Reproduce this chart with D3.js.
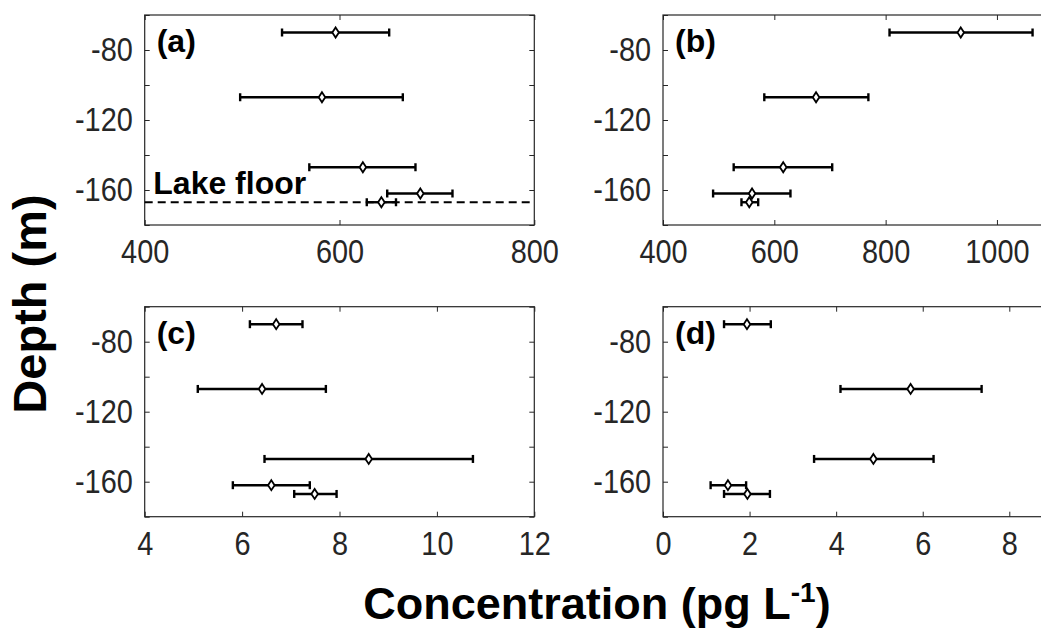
<!DOCTYPE html>
<html>
<head>
<meta charset="utf-8">
<script src="https://cdn.jsdelivr.net/npm/d3@7"></script>
<style>
  body { margin: 0; background: #fff; overflow: hidden; }
  svg { display: block; }
</style>
</head>
<body>
<div id="chart"></div>
<script>
// depths of the five samples (m)
const depths = [-70, -107, -147, -162, -167];
const lakeFloor = -167;

const meanA = [596, 582, 624, 683, 643];
const lowA  = [541, 498, 569, 649, 628];
const highA = [651, 665, 678, 716, 658];

const meanB = [935, 675, 616, 560, 555];
const lowB  = [807, 582, 527, 490, 541];
const highB = [1064, 769, 704, 629, 571];

const meanC = [6.70, 6.41, 8.60, 6.60, 7.49];
const lowC  = [6.16, 5.09, 6.46, 5.81, 7.07];
const highC = [7.24, 7.72, 10.74, 7.39, 7.94];

const meanD = [1.94, 5.72, 4.86, 1.50, 1.95];
const lowD  = [1.41, 4.10, 3.49, 1.10, 1.41];
const highD = [2.49, 7.36, 6.25, 1.92, 2.47];

const xTicksA = [400, 600, 800];
const xTicksB = [400, 600, 800, 1000];
const xTicksC = [4, 6, 8, 10, 12];
const xTicksD = [0, 2, 4, 6, 8];
const yTicks = [-180, -160, -140, -120, -100, -80, -60];

const W = 1041, H = 630;
const pw = 389.6, ph = 210;
const font = '"Liberation Sans", Arial, sans-serif';

const svg = d3.select('#chart').append('svg')
  .attr('width', W)
  .attr('height', H);

const panels = [
  { label: '(a)', x: 144.7, y: 15, domain: [400, 800], ticks: xTicksA, mean: meanA, low: lowA, high: highA, floor: true },
  { label: '(b)', x: 663, y: 15, domain: [400, 1100], ticks: xTicksB, mean: meanB, low: lowB, high: highB },
  { label: '(c)', x: 144.7, y: 306.7, domain: [4, 12], ticks: xTicksC, mean: meanC, low: lowC, high: highC },
  { label: '(d)', x: 663, y: 306.7, domain: [0, 9], ticks: xTicksD, mean: meanD, low: lowD, high: highD }
];

function styleAxis(sel) {
  sel.attr('font-family', font).attr('font-size', 34);
  sel.selectAll('.tick line').attr('stroke', '#262626');
  // tick labels are narrower than plain Liberation Sans
  sel.selectAll('.tick text')
    .attr('fill', '#262626')
    .attr('transform', 'scale(0.85,1)');
}

panels.forEach(p => {
  const g = svg.append('g').attr('transform', `translate(${p.x},${p.y})`);
  const x = d3.scaleLinear().domain(p.domain).range([0, pw]);
  const y = d3.scaleLinear().domain([-180, -60]).range([ph, 0]);

  const rows = depths.map((d, i) => ({ depth: d, mean: p.mean[i], low: p.low[i], high: p.high[i] }));

  // axes, ticks pointing inwards on all four sides
  const gx = g.append('g').attr('transform', `translate(0,${ph})`)
    .call(d3.axisBottom(x).tickValues(p.ticks).tickSizeInner(-5).tickSizeOuter(0)
      .tickPadding(14).tickFormat(d => String(d)));
  styleAxis(gx);

  const gy = g.append('g')
    .call(d3.axisLeft(y).tickValues(yTicks).tickSizeInner(-5).tickSizeOuter(0)
      .tickPadding(14).tickFormat(d => d % 40 === 0 ? String(d) : ''));
  styleAxis(gy);

  styleAxis(g.append('g')
    .call(d3.axisTop(x).tickValues(p.ticks).tickSizeInner(-5).tickSizeOuter(0).tickFormat('')));
  styleAxis(g.append('g').attr('transform', `translate(${pw},0)`)
    .call(d3.axisRight(y).tickValues(yTicks).tickSizeInner(-5).tickSizeOuter(0).tickFormat('')));

  g.selectAll('.domain').remove();

  g.append('rect')
    .attr('width', pw)
    .attr('height', ph)
    .attr('fill', 'none')
    .attr('stroke', '#262626')
    .attr('stroke-width', 1.2);

  if (p.floor) {
    g.append('line')
      .attr('x1', 0).attr('x2', pw)
      .attr('y1', y(lakeFloor)).attr('y2', y(lakeFloor))
      .attr('stroke', '#000')
      .attr('stroke-width', 2)
      .attr('stroke-dasharray', '8,5');
    g.append('text')
      .attr('x', 8.6)
      .attr('y', 179.3)
      .attr('font-family', font)
      .attr('font-weight', 'bold')
      .attr('font-size', 32)
      .text('Lake floor');
  }

  const bars = g.append('g')
    .attr('stroke', '#000')
    .attr('stroke-width', 2.4);

  bars.selectAll('.bar')
    .data(rows)
    .join('line')
    .attr('x1', d => x(d.low))
    .attr('x2', d => x(d.high))
    .attr('y1', d => y(d.depth))
    .attr('y2', d => y(d.depth));

  bars.selectAll('.capL')
    .data(rows)
    .join('line')
    .attr('x1', d => x(d.low)).attr('x2', d => x(d.low))
    .attr('y1', d => y(d.depth) - 4).attr('y2', d => y(d.depth) + 4);

  bars.selectAll('.capR')
    .data(rows)
    .join('line')
    .attr('x1', d => x(d.high)).attr('x2', d => x(d.high))
    .attr('y1', d => y(d.depth) - 4).attr('y2', d => y(d.depth) + 4);

  bars.selectAll('.mk')
    .data(rows)
    .join('path')
    .attr('d', d => {
      const cx = x(d.mean), cy = y(d.depth);
      return `M${cx},${cy - 5}L${cx + 3.3},${cy}L${cx},${cy + 5}L${cx - 3.3},${cy}Z`;
    })
    .attr('fill', '#fff')
    .attr('stroke-width', 1.8);

  g.append('text')
    .attr('x', 12)
    .attr('y', 37)
    .attr('font-family', font)
    .attr('font-weight', 'bold')
    .attr('font-size', 32)
    .text(p.label);
});

svg.append('text')
  .attr('transform', 'translate(46,304) rotate(-90)')
  .attr('text-anchor', 'middle')
  .attr('font-family', font)
  .attr('font-weight', 'bold')
  .attr('font-size', 47)
  .text('Depth (m)');

const xl = svg.append('text')
  .attr('x', 597)
  .attr('y', 619)
  .attr('text-anchor', 'middle')
  .attr('font-family', font)
  .attr('font-weight', 'bold')
  .attr('font-size', 45);
xl.append('tspan').text('Concentration (pg L');
xl.append('tspan').attr('dy', -17).attr('font-size', 28).text('-1');
xl.append('tspan').attr('dy', 17).text(')');
</script>
</body>
</html>
